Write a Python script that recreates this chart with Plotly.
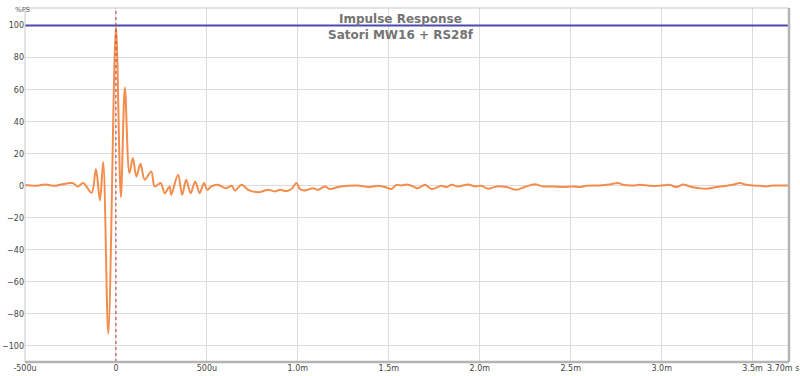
import plotly.graph_objects as go

# time in microseconds, amplitude in %FS
time_us = [-500, -445, -390, -335, -308, -238, -209, -180, -134, -110, -88, -70, -42, 0,
           27, 49, 74, 93, 112, 135, 158, 194, 213, 246, 268, 295, 304, 341, 364, 386, 410,
           436, 460, 484, 502, 524, 560, 606, 636, 654, 691, 727, 782, 837, 874, 901, 938,
           965, 993, 1011, 1038, 1084, 1112, 1148, 1176, 1221, 1276, 1331, 1386, 1441, 1478,
           1515, 1542, 1569, 1597, 1625, 1661, 1698, 1735, 1790, 1817, 1845, 1881, 1936, 1973,
           2009, 2046, 2092, 2147, 2202, 2247, 2302, 2348, 2403, 2458, 2513, 2549, 2586, 2659,
           2714, 2760, 2787, 2842, 2879, 2934, 2989, 3044, 3081, 3117, 3154, 3209, 3246, 3301,
           3355, 3392, 3429, 3465, 3502, 3538, 3575, 3612, 3685, 3700]
amplitude = [0.5, 0.0, 0.8, 0.0, 0.6, 1.7, -0.4, 1.7, -4.4, 10.4, -9.2, 14.8, -92.5, 99.2,
             -7.0, 61.4, 7.9, 17.3, 5.8, 13.7, 3.8, 9.0, -0.4, 1.7, -4.6, -0.4, -5.6, 6.9, -5.6,
             3.8, -4.6, 2.7, -4.6, 1.7, -2.5, -0.4, 0.6, -1.5, 0.0, -2.9, 0.6, -2.5, -4.0, -2.5,
             -3.5, -2.5, -3.3, -2.0, 1.7, -2.0, -2.9, -1.5, -2.5, -0.4, -2.0, -0.8, 0.0, 0.2,
             -0.8, 0.0, -0.8, -2.0, 0.6, 0.2, 0.8, 0.0, -1.5, 0.6, -2.0, 0.0, -0.8, 0.6, -0.4,
             0.8, -0.4, 0.0, -1.9, -0.4, -0.8, -2.5, -0.8, 1.0, -0.4, -0.4, -0.8, -0.4, -0.8,
             0.0, 0.2, 0.8, 1.7, 0.6, 0.2, 0.6, 0.0, 0.0, 0.6, -0.8, 0.8, -0.4, -1.5, -1.9,
             -0.8, 0.0, 0.6, 1.7, 0.6, 0.2, 0.0, -0.4, 0.2, 0.2, 0.2]

x_tick_vals = [-500, 0, 500, 1000, 1500, 2000, 2500, 3000, 3500]
x_tick_text = ["-500u", "0", "500u", "1.0m", "1.5m", "2.0m", "2.5m", "3.0m", "3.5m"]
x_end_label = "3.70m s"
y_tick_vals = [-100, -80, -60, -40, -20, 0, 20, 40, 60, 80, 100]
reference_level = 100
title_lines = ["Impulse Response", "Satori MW16 + RS28f"]
y_unit = "%FS"

fig = go.Figure()
fig.add_trace(go.Scatter(
    x=time_us, y=amplitude, mode="lines",
    line=dict(color="#f48d4c", width=2, shape="spline", smoothing=0.9),
    hoverinfo="skip", showlegend=False))

fig.add_hline(y=reference_level, line=dict(color="#4a4ab2", width=2), layer="above")
fig.add_vline(x=0, line=dict(color="#c03838", width=1, dash="dot"), layer="above")

grid = "#dcdcdc"
tickfont = dict(family="DejaVu Sans", size=8, color="#444444")
fig.update_layout(
    width=800, height=376,
    margin=dict(l=25, r=11, t=8, b=14),
    paper_bgcolor="white", plot_bgcolor="white",
    xaxis=dict(range=[-500, 3700], tickvals=x_tick_vals, ticktext=x_tick_text,
               showgrid=True, gridcolor=grid, gridwidth=1, zeroline=False,
               tickfont=tickfont, ticks="", automargin=False, showline=False,
               ticklabeloverflow="allow"),
    yaxis=dict(range=[-110, 111], tickvals=y_tick_vals,
               showgrid=True, gridcolor=grid, gridwidth=1, zeroline=False,
               tickfont=tickfont, ticks="", automargin=False, showline=False),
    font=dict(family="DejaVu Sans"),
)

# frame
fig.add_shape(type="rect", xref="paper", yref="paper", x0=0, x1=1, y0=0, y1=1,
              line=dict(color="#c8c8c8", width=1))
fig.add_shape(type="line", xref="paper", yref="paper", x0=0, x1=1, y0=0, y1=0,
              line=dict(color="#b4b4b4", width=2.5))
fig.add_shape(type="line", xref="paper", yref="paper", x0=1, x1=1, y0=0, y1=1,
              line=dict(color="#b4b4b4", width=2.5))

fig.add_annotation(text="<b>" + title_lines[0] + "</b>", xref="paper", yref="paper", x=0.492, y=1,
                   yanchor="middle", yshift=-11, showarrow=False,
                   font=dict(family="DejaVu Sans", size=12, color="#747474"))
fig.add_annotation(text="<b>" + title_lines[1] + "</b>", xref="paper", yref="paper", x=0.492, y=1,
                   yanchor="middle", yshift=-27, showarrow=False,
                   font=dict(family="DejaVu Sans", size=12, color="#747474"))
fig.add_annotation(text=y_unit, xref="paper", yref="paper", x=0, y=1, xshift=-12,
                   yshift=4, showarrow=False,
                   font=dict(family="DejaVu Sans", size=7, color="#555555"))
fig.add_annotation(text=x_end_label, xref="paper", yref="paper", x=1, y=0,
                   xanchor="right", yanchor="top", xshift=11, yshift=-1,
                   showarrow=False, borderpad=0, font=tickfont)

fig.write_html("out.html", config={"displayModeBar": False},
               post_script="document.body.style.margin='0';document.body.style.overflow='hidden';")
